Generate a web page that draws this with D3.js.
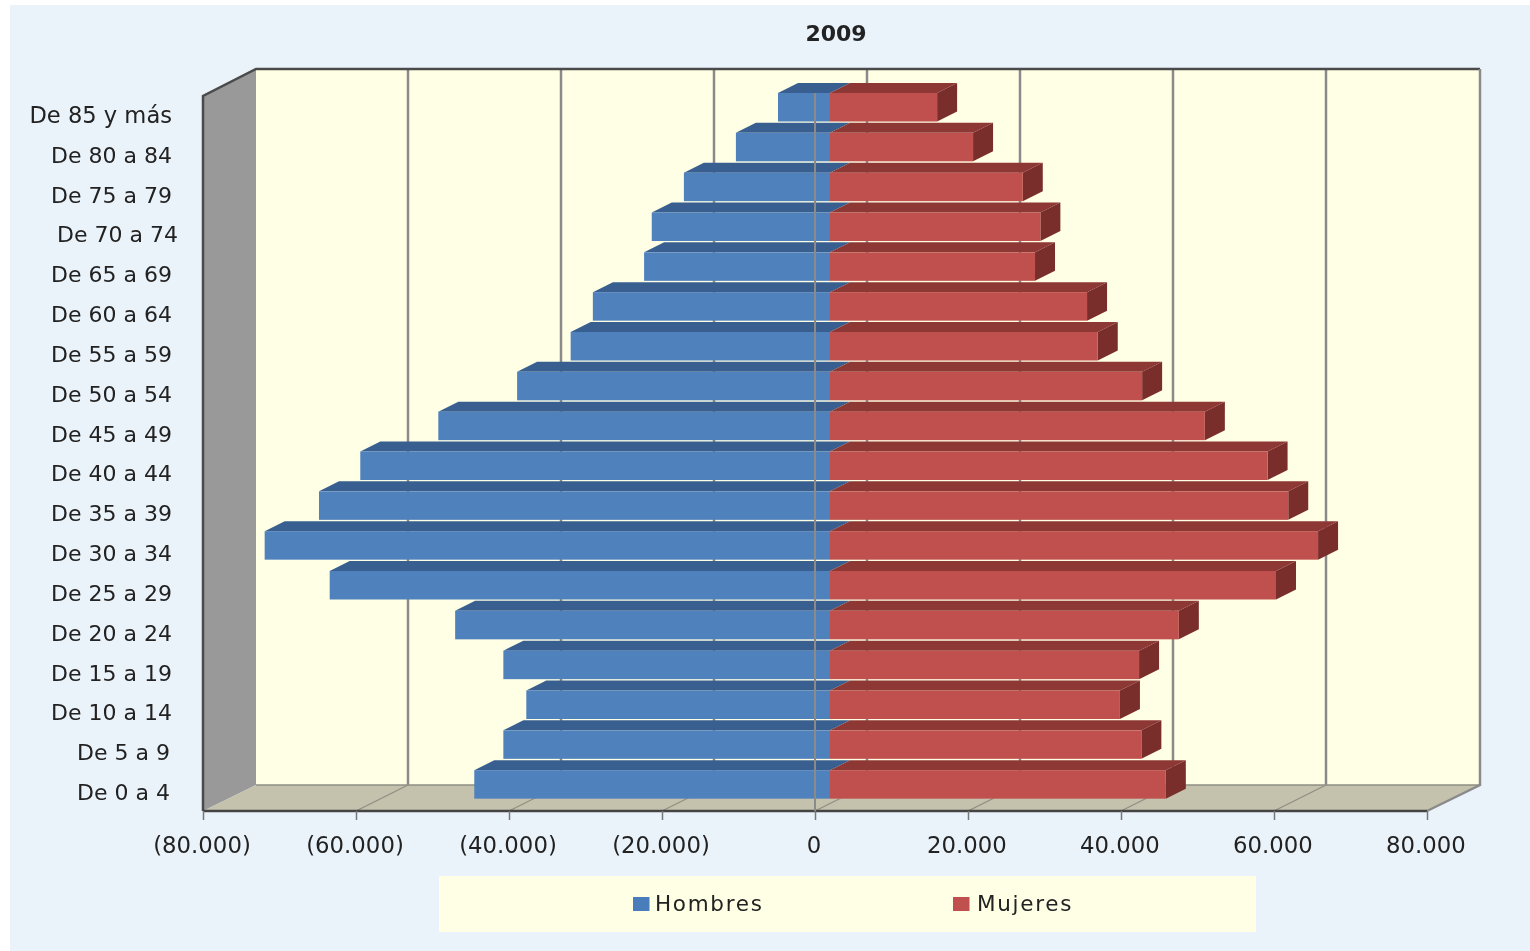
<!DOCTYPE html>
<html>
<head>
<meta charset="utf-8">
<title>2009</title>
<script src="https://cdn.jsdelivr.net/npm/d3@7"></script>
<style>
  html, body { margin: 0; padding: 0; background: #fff; }
  svg { display: block; filter: blur(0.5px); }
  text { font-family: "DejaVu Sans", sans-serif; fill: #222; }
</style>
</head>
<body>
<div id="chart"></div>
<script>
const title = '2009'
const categories = ['De 85 y más', 'De 80 a 84', 'De 75 a 79', 'De 70 a 74', 'De 65 a 69', 'De 60 a 64',
  'De 55 a 59', 'De 50 a 54', 'De 45 a 49', 'De 40 a 44', 'De 35 a 39', 'De 30 a 34',
  'De 25 a 29', 'De 20 a 24', 'De 15 a 19', 'De 10 a 14', 'De 5 a 9', 'De 0 a 4']
const hombres = [6800, 12300, 19100, 23300, 24300, 31000, 33900, 40900, 51200, 61400, 66800, 73900,
  65400, 49000, 42700, 39700, 42700, 46500]
const mujeres = [14000, 18700, 25200, 27500, 26800, 33600, 35000, 40800, 49000, 57200, 59900, 63800,
  58300, 45600, 40400, 37900, 40700, 43900]
const xTicks = [-80000, -60000, -40000, -20000, 0, 20000, 40000, 60000, 80000]
const seriesNames = ['Hombres', 'Mujeres']

class Pyramid {
  constructor (_config, parentElement) {
    this.config = {
      width: _config.width,
      height: _config.height,
      parentElement: parentElement,
      left: 203, right: 1427, top: 96, bottom: 811,
      depthX: 53, depthY: 27,       // box depth
      barShiftX: 15, barShiftY: -3, // bars sit inside the box
      barDepthX: 20, barDepthY: 10,
      barHeight: 28.5
    }
    this.initVis()
  }

  initVis () {
    const vis = this
    const c = vis.config
    vis.svg = d3.select(c.parentElement).append('svg')
      .attr('width', c.width)
      .attr('height', c.height)

    vis.scaleX = d3.scaleLinear().domain([-80000, 80000]).range([c.left, c.right])
    // the rows run a little past the box floor in the original
    vis.scaleY = d3.scaleBand().domain(categories).range([c.top, c.bottom + 2])

    vis.svg.append('rect')
      .attr('x', 10).attr('y', 5)
      .attr('width', c.width - 10).attr('height', c.height - 5)
      .attr('fill', '#ebf3fa')

    vis.svg.append('text')
      .attr('x', 836).attr('y', 41)
      .attr('text-anchor', 'middle')
      .attr('font-size', 22).attr('font-weight', 'bold')
      .text(title)

    vis.drawBox()
    vis.drawBars()
    vis.drawAxes()
    vis.drawLegend()
  }

  drawBox () {
    const vis = this
    const c = vis.config
    const backL = c.left + c.depthX
    const backR = c.right + c.depthX - 0
    const backT = c.top - c.depthY
    const backB = c.bottom - c.depthY + 1

    vis.svg.append('rect')
      .attr('x', backL).attr('y', backT)
      .attr('width', backR - backL).attr('height', backB - backT)
      .attr('fill', '#ffffe5')

    // left wall
    vis.svg.append('path')
      .attr('d', d3.line()([[c.left, c.top], [backL, backT], [backL, backB], [c.left, c.bottom]]) + 'Z')
      .attr('fill', '#999999')

    // floor
    vis.svg.append('path')
      .attr('d', d3.line()([[c.left, c.bottom], [backL, backB], [backR, backB], [c.right, c.bottom]]) + 'Z')
      .attr('fill', '#c4c2ad')

    // gridlines on back wall and floor
    vis.svg.append('g').selectAll('line')
      .data(xTicks.slice(1, -1))
      .join('line')
      .attr('x1', d => vis.scaleX(d) + c.depthX - 1).attr('x2', d => vis.scaleX(d) + c.depthX - 1)
      .attr('y1', backT).attr('y2', backB)
      .attr('stroke', '#8a8a8a').attr('stroke-width', 2.5)

    vis.svg.append('g').selectAll('line')
      .data(xTicks.slice(1, -1))
      .join('line')
      .attr('x1', d => vis.scaleX(d)).attr('x2', d => vis.scaleX(d) + c.depthX - 1)
      .attr('y1', c.bottom).attr('y2', backB)
      .attr('stroke', '#8f8d80').attr('stroke-width', 1.2)

    vis.svg.append('line')
      .attr('x1', backL).attr('x2', backR).attr('y1', backB).attr('y2', backB)
      .attr('stroke', '#8f8f84').attr('stroke-width', 1.5)

    // box outline
    vis.svg.append('path')
      .attr('d', d3.line()([[c.left, c.bottom], [c.left, c.top], [backL, backT], [backR, backT]]))
      .attr('fill', 'none').attr('stroke', '#4a4a4a').attr('stroke-width', 2.5)

    vis.svg.append('path')
      .attr('d', d3.line()([[backR, backT], [backR, backB], [c.right, c.bottom]]))
      .attr('fill', 'none').attr('stroke', '#8a8a8a').attr('stroke-width', 2.5)

    vis.svg.append('line')
      .attr('x1', c.left).attr('x2', c.right).attr('y1', c.bottom).attr('y2', c.bottom)
      .attr('stroke', '#444').attr('stroke-width', 2.5)
  }

  drawBars () {
    const vis = this
    const c = vis.config
    const x0 = vis.scaleX(0) + c.barShiftX
    const yTop = d => vis.scaleY(d) + c.barShiftY
    const face = pts => d3.line()(pts) + 'Z'
    const dx = c.barDepthX, dy = c.barDepthY

    const rows = categories.map((cat, i) => ({cat, h: hombres[i], m: mujeres[i]}))
    const row = vis.svg.append('g').selectAll('g').data(rows).join('g')

    // Hombres
    row.append('path')
      .attr('fill', '#385f8f')
      .attr('d', d => {
        const xl = vis.scaleX(-d.h) + c.barShiftX, y = yTop(d.cat)
        return face([[xl, y], [xl + dx, y - dy], [x0 + dx, y - dy], [x0, y]])
      })
    row.append('rect')
      .attr('fill', '#4f81bd')
      .attr('x', d => vis.scaleX(-d.h) + c.barShiftX)
      .attr('y', d => yTop(d.cat))
      .attr('width', d => x0 - vis.scaleX(-d.h) - c.barShiftX)
      .attr('height', c.barHeight)

    // Mujeres
    row.append('path')
      .attr('fill', '#8e3836')
      .attr('d', d => {
        const xr = vis.scaleX(d.m) + c.barShiftX, y = yTop(d.cat)
        return face([[x0, y], [x0 + dx, y - dy], [xr + dx, y - dy], [xr, y]])
      })
    row.append('path')
      .attr('fill', '#7a2e2c')
      .attr('d', d => {
        const xr = vis.scaleX(d.m) + c.barShiftX, y = yTop(d.cat)
        return face([[xr, y], [xr + dx, y - dy], [xr + dx, y - dy + c.barHeight], [xr, y + c.barHeight]])
      })
    row.append('rect')
      .attr('fill', '#c0504d')
      .attr('x', x0)
      .attr('y', d => yTop(d.cat))
      .attr('width', d => vis.scaleX(d.m) + c.barShiftX - x0)
      .attr('height', c.barHeight)

    // zero line runs in front of the bars
    vis.svg.append('line')
      .attr('x1', vis.scaleX(0)).attr('x2', vis.scaleX(0))
      .attr('y1', c.top - 3).attr('y2', c.bottom)
      .attr('stroke', '#8a8a8a').attr('stroke-width', 2)
  }

  drawAxes () {
    const vis = this
    const c = vis.config
    const fmt = v => {
      const s = d3.format(',')(Math.abs(v)).replace(/,/g, '.')
      return v < 0 ? `(${s})` : s
    }

    const axisX = d3.axisBottom(vis.scaleX).tickValues(xTicks).tickFormat(fmt).tickSize(9).tickPadding(17)
    const gx = vis.svg.append('g').attr('transform', `translate(0,${c.bottom})`).call(axisX)
    gx.select('.domain').remove()
    gx.selectAll('line').attr('stroke', '#777').attr('stroke-width', 1.5)
    gx.selectAll('text')
      .attr('font-size', 22.8).attr('font-family', '"DejaVu Sans", sans-serif').attr('fill', '#222')
      .attr('dx', -1.5)

    const axisY = d3.axisLeft(vis.scaleY).tickSize(0).tickPadding(31)
    const gy = vis.svg.append('g').attr('transform', `translate(${c.left},0)`).call(axisY)
    gy.select('.domain').remove()
    gy.selectAll('text')
      .attr('font-size', d => d === 'De 85 y más' ? 22.6 : 22)
      .attr('font-family', '"DejaVu Sans", sans-serif').attr('fill', '#222')
      .attr('dx', d => d === 'De 70 a 74' ? 6 : (d === 'De 5 a 9' || d === 'De 0 a 4') ? -2 : 0)
  }

  drawLegend () {
    const vis = this
    vis.svg.append('rect')
      .attr('x', 439).attr('y', 876).attr('width', 817).attr('height', 56)
      .attr('fill', '#ffffe5')

    const scaleColor = d3.scaleOrdinal().domain(seriesNames).range(['#4a7ebb', '#c0504d'])
    const scalePos = d3.scaleOrdinal().domain(seriesNames).range([633, 953])
    const scaleGap = d3.scaleOrdinal().domain(seriesNames).range([22, 24])
    const item = vis.svg.append('g').selectAll('g').data(seriesNames).join('g')
      .attr('transform', d => `translate(${scalePos(d)},0)`)
    item.append('rect')
      .attr('y', 897).attr('width', 16.5).attr('height', 14)
      .attr('fill', d => scaleColor(d))
    item.append('text')
      .attr('x', d => scaleGap(d)).attr('y', 911)
      .attr('font-size', 21.5).attr('letter-spacing', 1.7)
      .text(d => d)
  }
}

new Pyramid({width: 1530, height: 951}, '#chart')
</script>
</body>
</html>
